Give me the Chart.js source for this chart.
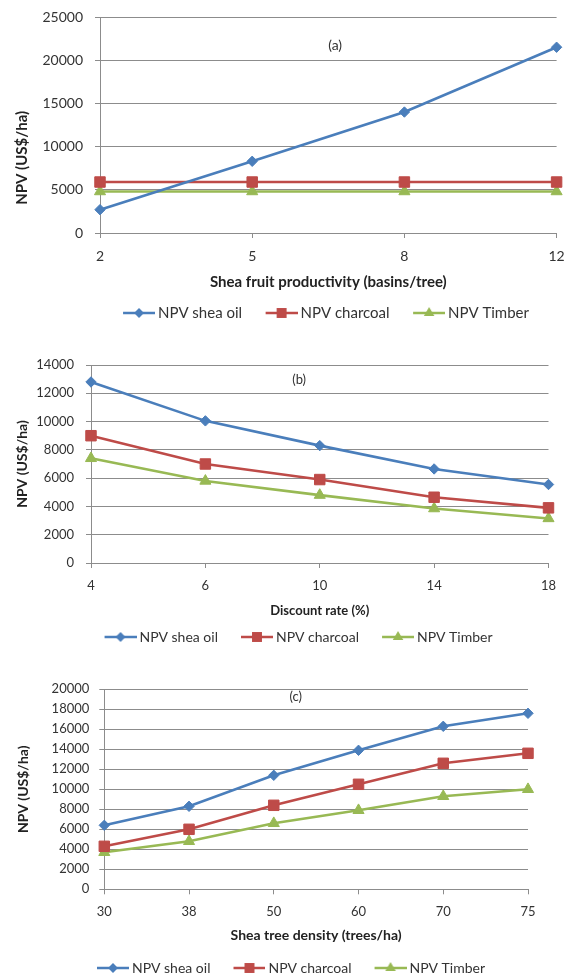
<!DOCTYPE html>
<html>
<head>
<meta charset="utf-8">
<script src="https://cdn.jsdelivr.net/npm/chart.js@4.4.1/dist/chart.umd.min.js"></script>
<style>
  html, body { margin: 0; padding: 0; background: #ffffff; width: 565px; height: 975px; overflow: hidden; }
  canvas { position: absolute; left: 0; }
</style>
</head>
<body>
<canvas id="chartA" width="565" height="331" style="top:0px"></canvas>
<canvas id="chartB" width="565" height="330" style="top:330px"></canvas>
<canvas id="chartC" width="565" height="325" style="top:660px"></canvas>
<script>
// ---------- data ----------
const seriesNames = ['NPV shea oil', 'NPV charcoal', 'NPV Timber'];

const productivityLabels = ['2', '5', '8', '12'];
const productivityShea = [2700, 8300, 14000, 21500];
const productivityCharcoal = [5900, 5900, 5900, 5900];
const productivityTimber = [4800, 4800, 4800, 4800];

const discountLabels = ['4', '6', '10', '14', '18'];
const discountShea = [12800, 10050, 8300, 6650, 5550];
const discountCharcoal = [9000, 7000, 5900, 4650, 3900];
const discountTimber = [7400, 5800, 4800, 3850, 3150];

const densityLabels = ['30', '38', '50', '60', '70', '75'];
const densityShea = [6400, 8300, 11400, 13900, 16300, 17600];
const densityCharcoal = [4300, 6000, 8400, 10500, 12600, 13600];
const densityTimber = [3700, 4800, 6600, 7900, 9300, 10000];

// ---------- styles ----------
const FONT = 'Lato, "Liberation Sans", sans-serif';
const colors = ['#4A7EBB', '#BE4B48', '#98B954'];
const markerStyles = ['rectRot', 'rect', 'triangle'];
const markerRadius = [5.2, 7.4, 6.4];
const GRID = '#8c8c8c';
const TEXT = '#333333';

function drawMarker(ctx, style, x, y, r) {
  ctx.beginPath();
  if (style === 'rectRot') {
    ctx.moveTo(x, y - r); ctx.lineTo(x + r, y); ctx.lineTo(x, y + r); ctx.lineTo(x - r, y);
  } else if (style === 'rect') {
    const s = r * Math.SQRT1_2;
    ctx.rect(x - s, y - s, 2 * s, 2 * s);
  } else {
    for (let k = 0; k < 3; k++) {
      const a = k * 2 * Math.PI / 3;
      const px = x + Math.sin(a) * r, py = y - Math.cos(a) * r;
      if (k === 0) ctx.moveTo(px, py); else ctx.lineTo(px, py);
    }
  }
  ctx.closePath();
  ctx.fill();
}

function legendIcon(i, width) {
  const L = 32, H = 16;
  const c = document.createElement('canvas');
  c.width = width; c.height = H;
  const ctx = c.getContext('2d');
  ctx.strokeStyle = colors[i];
  ctx.fillStyle = colors[i];
  ctx.lineWidth = 2.5;
  ctx.beginPath();
  ctx.moveTo(width - L, H / 2); ctx.lineTo(width, H / 2);
  ctx.stroke();
  drawMarker(ctx, markerStyles[i], width - L / 2, H / 2, markerRadius[i] * 0.95);
  return c;
}

function widestLabel(max, step, size) {
  const c = document.createElement('canvas').getContext('2d');
  c.font = size + 'px ' + FONT;
  let w = 0;
  for (let v = 0; v <= max; v += step) w = Math.max(w, c.measureText(String(v)).width);
  return w;
}

const panelLabel = {
  id: 'panelLabel',
  afterDraw(chart, args, opts) {
    const { ctx, chartArea: ca } = chart;
    ctx.save();
    ctx.font = opts.size + 'px ' + FONT;
    ctx.fillStyle = TEXT;
    ctx.textAlign = 'center';
    ctx.textBaseline = 'middle';
    ctx.fillText(opts.text, ca.left + opts.fx * (ca.right - ca.left), ca.top + opts.fy * (ca.bottom - ca.top));
    ctx.restore();
  }
};

function makeChart(id, p) {
  const datasets = [p.shea, p.charcoal, p.timber].map((d, i) => ({
    label: seriesNames[i],
    data: d,
    borderColor: colors[i],
    backgroundColor: colors[i],
    borderWidth: 2.6,
    pointStyle: markerStyles[i],
    pointRadius: markerRadius[i],
    pointBorderWidth: 1,
    pointBackgroundColor: colors[i],
    pointBorderColor: colors[i],
    tension: 0,
    fill: false,
    clip: false
  }));
  const icons = [0, 1, 2].map(i => legendIcon(i, p.iconW));
  // y tick labels: right edge sits (tick length + gap) left of the axis
  let yTicks = { stepSize: p.yStep, padding: p.yGap, color: TEXT, font: { family: FONT, size: p.tickFs }, callback: (v) => String(v) };
  if (p.mirror) {
    const w = widestLabel(p.yMax, p.yStep, p.tickFs);
    yTicks = Object.assign(yTicks, { mirror: true, crossAlign: 'far', padding: -(5 + p.yGap) - w });
  }
  return new Chart(document.getElementById(id), {
    type: 'line',
    data: { labels: p.labels, datasets },
    plugins: [panelLabel],
    options: {
      responsive: false,
      animation: false,
      devicePixelRatio: 1,
      layout: { padding: { left: p.boxLeft, right: p.padR, top: p.padTop, bottom: p.padBottom } },
      plugins: {
        tooltip: { enabled: false },
        panelLabel: { text: p.panel, fx: p.fx, fy: p.fy, size: p.tickFs },
        legend: {
          position: 'bottom',
          align: 'center',
          labels: {
            usePointStyle: true,
            pointStyleWidth: 41,
            padding: 10,
            color: TEXT,
            font: { family: FONT, size: p.legendFs },
            generateLabels: (chart) => chart.data.datasets.map((ds, i) => ({
              text: ds.label,
              pointStyle: icons[i],
              fillStyle: ds.borderColor,
              strokeStyle: ds.borderColor,
              lineWidth: 0,
              hidden: false,
              datasetIndex: i,
              fontColor: TEXT
            }))
          }
        }
      },
      scales: {
        x: {
          type: 'category',
          offset: false,
          grid: { drawOnChartArea: false, drawTicks: true, tickLength: 5, color: GRID, lineWidth: 1 },
          border: { color: GRID, width: 1 },
          ticks: { padding: p.xTickPad, color: TEXT, font: { family: FONT, size: p.tickFs }, maxRotation: 0, autoSkip: false },
          title: { display: true, text: p.xTitle, color: '#222', font: { family: FONT, size: p.xTitleFs, weight: 'bold' }, padding: { top: 0, bottom: p.xTitlePad } },
          afterFit: (s) => { s.height = p.xH; s.paddingLeft = 0; s.paddingRight = 0; }
        },
        y: {
          min: 0,
          max: p.yMax,
          grid: { color: GRID, lineWidth: 1, drawTicks: true, tickLength: 5 },
          border: { color: GRID, width: 1 },
          ticks: yTicks,
          title: { display: true, text: p.yTitle, color: '#222', font: { family: FONT, size: p.yTitleFs, weight: 'bold' }, padding: { top: p.yTitlePad, bottom: 0 } },
          afterFit: (s) => { s.width = p.yW; s.paddingTop = 0; s.paddingBottom = 0; }
        }
      }
    }
  });
}

function build() {
  makeChart('chartA', {
    labels: productivityLabels, shea: productivityShea, charcoal: productivityCharcoal, timber: productivityTimber,
    yMax: 25000, yStep: 5000, tickFs: 14, legendFs: 15, xTitleFs: 15, yTitleFs: 15, iconW: 50, mirror: true,
    boxLeft: 80.5, yW: 19.5, padR: 7, padTop: 17, padBottom: 0.5, xH: 62.5,
    xTickPad: 10, xTitlePad: 4, yGap: 12, yTitlePad: -67,
    xTitle: 'Shea fruit productivity (basins/tree)',
    yTitle: 'NPV (US$/ha)' + ' '.repeat(18),
    panel: '(a)', fx: 0.515, fy: 0.13
  });
  makeChart('chartB', {
    labels: discountLabels, shea: discountShea, charcoal: discountCharcoal, timber: discountTimber,
    yMax: 14000, yStep: 2000, tickFs: 13, legendFs: 14, xTitleFs: 13, yTitleFs: 14, iconW: 49, mirror: false,
    boxLeft: 35.5, yW: 55.5, padR: 16.5, padTop: 35, padBottom: 6, xH: 57,
    xTickPad: 10.5, xTitlePad: 1, yGap: 12, yTitlePad: -21.9,
    xTitle: 'Discount rate (%)',
    yTitle: 'NPV (US$/ha)',
    panel: '(b)', fx: 0.455, fy: 0.076
  });
  makeChart('chartC', {
    labels: densityLabels, shea: densityShea, charcoal: densityCharcoal, timber: densityTimber,
    yMax: 20000, yStep: 2000, tickFs: 13, legendFs: 14, xTitleFs: 14, yTitleFs: 14, iconW: 49, mirror: false,
    boxLeft: 41, yW: 63.3, padR: 37, padTop: 29.3, padBottom: 0, xH: 61.7,
    xTickPad: 9.6, xTitlePad: 7.6, yGap: 10, yTitlePad: -26.4,
    xTitle: 'Shea tree density (trees/ha)',
    yTitle: 'NPV (US$/ha)',
    panel: '(c)', fx: 0.452, fy: 0.0385
  });
}

Promise.all([
  document.fonts.load('14px Lato'),
  document.fonts.load('bold 14px Lato')
]).then(build, build);
</script>
</body>
</html>
